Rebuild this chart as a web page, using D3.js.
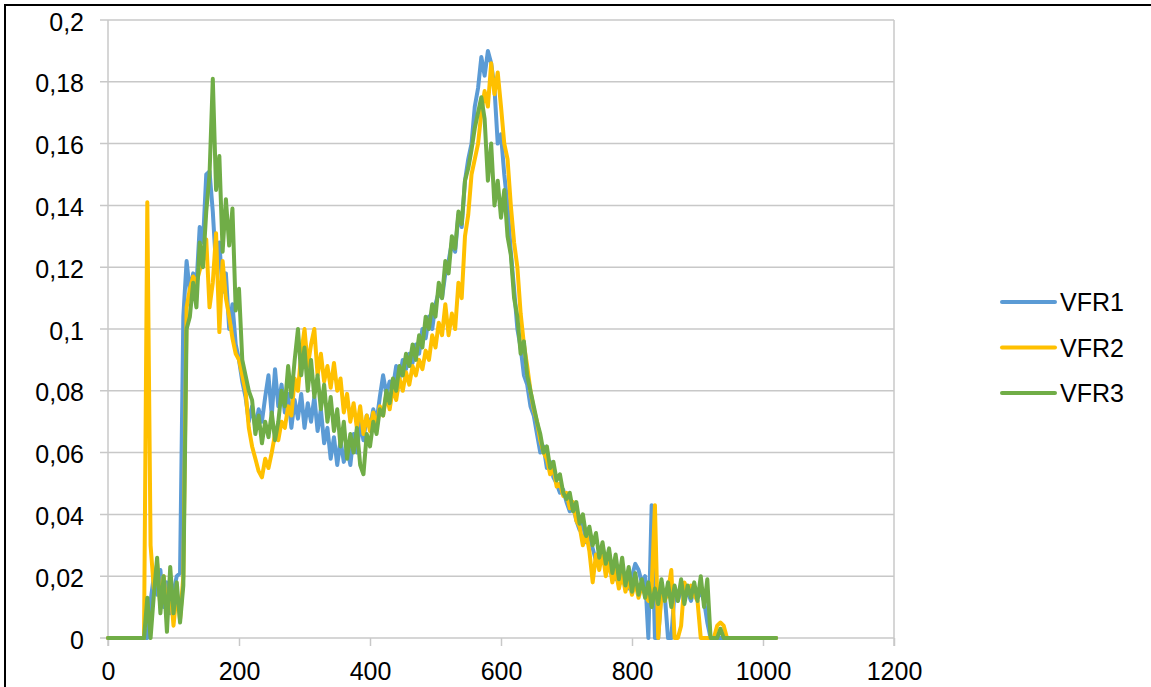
<!DOCTYPE html>
<html>
<head>
<meta charset="utf-8">
<script src="https://cdn.jsdelivr.net/npm/d3@7/dist/d3.min.js"></script>
<style>
body { margin: 0; background: #fff; }
svg { display: block; }
</style>
</head>
<body>
<div id="chart"></div>
<script>
const seriesNames = ["VFR1", "VFR2", "VFR3"];
const seriesColors = ["#5B9BD5", "#FFC000", "#70AD47"];
const xTicks = [0, 200, 400, 600, 800, 1000, 1200];
const yTicks = [0, 0.02, 0.04, 0.06, 0.08, 0.1, 0.12, 0.14, 0.16, 0.18, 0.2];
const yTickLabels = ["0", "0,02", "0,04", "0,06", "0,08", "0,1", "0,12", "0,14", "0,16", "0,18", "0,2"];

// sample positions along x, every 5 units from 0 to 1020
const xValues = d3.range(0, 1021, 5);

const vfr1 = [
    0, 0, 0, 0, 0, 0, 0, 0, 0, 0,
    0, 0, 0, 0.012, 0.02, 0.014, 0.022, 0.01, 0.018, 0.008,
    0.015, 0.02, 0.021, 0.104, 0.122, 0.112, 0.118, 0.114, 0.133, 0.128,
    0.15, 0.151, 0.138, 0.12, 0.128, 0.112, 0.118, 0.1, 0.108, 0.095,
    0.09, 0.083, 0.078, 0.07, 0.075, 0.068, 0.074, 0.07, 0.078, 0.085,
    0.072, 0.087, 0.075, 0.082, 0.073, 0.079, 0.068, 0.077, 0.071, 0.079,
    0.068, 0.076, 0.07, 0.078, 0.067, 0.074, 0.063, 0.068, 0.058, 0.065,
    0.056, 0.064, 0.057, 0.062, 0.056, 0.066, 0.06, 0.07, 0.064, 0.072,
    0.068, 0.074, 0.07, 0.078, 0.085, 0.079, 0.083, 0.081, 0.088, 0.084,
    0.09, 0.087, 0.092, 0.089, 0.095, 0.092, 0.1, 0.097, 0.104, 0.1,
    0.108, 0.112, 0.11, 0.118, 0.122, 0.128, 0.125, 0.137, 0.133, 0.148,
    0.155, 0.16, 0.172, 0.178, 0.188, 0.182, 0.19, 0.186, 0.178, 0.16,
    0.163, 0.15, 0.14, 0.125, 0.113, 0.1, 0.094, 0.085, 0.082, 0.075,
    0.072, 0.066, 0.06, 0.062, 0.055, 0.057, 0.052, 0.05, 0.047, 0.048,
    0.044, 0.041, 0.043, 0.038, 0.035, 0.037, 0.031, 0.033, 0.029, 0.025,
    0.028, 0.025, 0.027, 0.022, 0.024, 0.019, 0.022, 0.018, 0.02, 0.016,
    0.02, 0.024, 0.022, 0.018, 0.02, 0, 0.043, 0, 0, 0.016,
    0.014, 0, 0, 0.015, 0.012, 0.016, 0.013, 0.015, 0.012, 0.016,
    0.013, 0.015, 0.012, 0.005, 0, 0, 0, 0, 0, 0,
    0, 0, 0, 0, 0, 0, 0, 0, 0, 0,
    0, 0, 0, 0, 0
];

const vfr2 = [
    0, 0, 0, 0, 0, 0, 0, 0, 0, 0,
    0, 0, 0.141, 0.03, 0.016, 0.024, 0.01, 0.02, 0.007, 0.017,
    0.004, 0.015, 0.006, 0.02, 0.107, 0.113, 0.117, 0.115, 0.119, 0.122,
    0.129, 0.107, 0.115, 0.131, 0.099, 0.122, 0.11, 0.104, 0.097, 0.092,
    0.09, 0.085, 0.08, 0.068, 0.062, 0.058, 0.054, 0.052, 0.058, 0.055,
    0.06, 0.066, 0.064, 0.07, 0.068, 0.075, 0.072, 0.084, 0.08, 0.092,
    0.1, 0.088, 0.095, 0.1, 0.085, 0.092, 0.083, 0.088, 0.081, 0.089,
    0.08, 0.084, 0.073, 0.079, 0.07, 0.076, 0.068, 0.075, 0.066, 0.072,
    0.067, 0.073, 0.068, 0.075, 0.072, 0.079, 0.074, 0.081, 0.077, 0.084,
    0.08, 0.086, 0.082, 0.088, 0.085, 0.09, 0.087, 0.093, 0.09, 0.098,
    0.094, 0.102, 0.098, 0.108, 0.098, 0.105, 0.1, 0.115, 0.11, 0.13,
    0.137, 0.15, 0.155, 0.16, 0.17, 0.177, 0.172, 0.186, 0.176, 0.183,
    0.172, 0.16, 0.155, 0.14, 0.128, 0.12, 0.105, 0.095, 0.088, 0.08,
    0.074, 0.07, 0.064, 0.06, 0.058, 0.053, 0.055, 0.049, 0.05, 0.046,
    0.047, 0.042, 0.044, 0.038, 0.036, 0.03, 0.034, 0.028, 0.018, 0.027,
    0.022, 0.028, 0.02, 0.025, 0.018, 0.022, 0.016, 0.021, 0.015, 0.019,
    0.014, 0.018, 0.013, 0.017, 0.014, 0.012, 0.016, 0.043, 0, 0.014,
    0.012, 0.015, 0.022, 0, 0, 0.004, 0.018, 0.015, 0.017, 0.014,
    0.012, 0, 0, 0, 0, 0, 0.004, 0.005, 0.004, 0,
    0, 0, 0, 0, 0, 0, 0, 0, 0, 0,
    0, 0, 0, 0, 0
];

const vfr3 = [
    0, 0, 0, 0, 0, 0, 0, 0, 0, 0,
    0, 0, 0.013, 0, 0.014, 0.026, 0.008, 0.02, 0.002, 0.023,
    0.008, 0.018, 0.005, 0.017, 0.1, 0.104, 0.115, 0.107, 0.128, 0.12,
    0.138, 0.15, 0.181, 0.145, 0.156, 0.125, 0.142, 0.127, 0.139, 0.106,
    0.113, 0.09, 0.085, 0.08, 0.077, 0.066, 0.072, 0.063, 0.07, 0.065,
    0.073, 0.064, 0.07, 0.08, 0.075, 0.088, 0.078, 0.09, 0.1, 0.085,
    0.094, 0.08, 0.09, 0.078, 0.085, 0.074, 0.082, 0.07, 0.078, 0.067,
    0.074, 0.062, 0.07, 0.058, 0.066, 0.06, 0.068, 0.056, 0.053, 0.066,
    0.062, 0.07, 0.066, 0.074, 0.072, 0.08, 0.076, 0.084, 0.08, 0.088,
    0.085, 0.092, 0.088, 0.095, 0.09, 0.098, 0.094, 0.104, 0.1, 0.108,
    0.104, 0.115, 0.11, 0.122, 0.118, 0.13, 0.126, 0.138, 0.134, 0.148,
    0.152, 0.158, 0.165, 0.17, 0.175, 0.168, 0.148, 0.16, 0.14, 0.148,
    0.136, 0.145, 0.13, 0.124, 0.11, 0.104, 0.092, 0.096, 0.085, 0.08,
    0.075, 0.07, 0.066, 0.06, 0.062, 0.055, 0.057, 0.051, 0.053, 0.047,
    0.045, 0.047, 0.041, 0.044, 0.037, 0.04, 0.033, 0.036, 0.03, 0.034,
    0.026, 0.031, 0.024, 0.029, 0.021, 0.027, 0.019, 0.026, 0.017, 0.023,
    0.015, 0.021, 0.014, 0.019, 0.013, 0.018, 0.01, 0.016, 0.011, 0.019,
    0.012, 0.018, 0.01, 0.017, 0.012, 0.019, 0.011, 0.017, 0.013, 0.018,
    0.012, 0.02, 0.01, 0.019, 0, 0, 0, 0.003, 0, 0,
    0, 0, 0, 0, 0, 0, 0, 0, 0, 0,
    0, 0, 0, 0, 0
];

const seriesValues = [vfr1, vfr2, vfr3];

function drawChart(selector)
{
    // Set dimensions and margins
    var totalWidth = 1151, totalHeight = 687;
    var margin = { top: 20, right: 257, bottom: 49, left: 108 },
        width = totalWidth - margin.left - margin.right,
        height = totalHeight - margin.top - margin.bottom;

    var root = d3.select(selector)
        .append("svg")
        .attr("width", totalWidth)
        .attr("height", totalHeight);

    // Outer frame (only top and left edges are visible in the picture)
    root.append("path")
        .attr("d", "M5," + totalHeight + "V5H" + totalWidth)
        .attr("fill", "none")
        .attr("stroke", "#000")
        .attr("stroke-width", 2);

    var svg = root.append("g")
        .attr("transform", "translate(" + margin.left + "," + margin.top + ")");

    // Define scales
    var x = d3.scaleLinear()
        .domain([0, 1200])
        .range([0, width]);

    var y = d3.scaleLinear()
        .domain([0, 0.2])
        .range([height, 0]);

    const font = "'Liberation Sans', Arial, sans-serif";
    const gridColor = "#c8c8c8";

    // Horizontal gridlines, with their tick stubs to the left
    svg.append("g")
        .selectAll("line")
        .data(yTicks)
        .join("line")
        .attr("x1", -8)
        .attr("x2", width)
        .attr("y1", d => y(d))
        .attr("y2", d => y(d))
        .attr("stroke", gridColor)
        .attr("stroke-width", 1.5);

    // Vertical edges of the plot area
    svg.append("g")
        .selectAll("line")
        .data([0, 1200])
        .join("line")
        .attr("x1", d => x(d))
        .attr("x2", d => x(d))
        .attr("y1", 0)
        .attr("y2", height + 8)
        .attr("stroke", gridColor)
        .attr("stroke-width", 1.5);

    // Add X axis
    var xAxis = svg.append("g")
        .attr("transform", "translate(0," + height + ")")
        .call(d3.axisBottom(x).tickValues(xTicks).tickSize(8).tickPadding(16).tickFormat(d3.format("d")));
    xAxis.select(".domain").remove();
    xAxis.selectAll(".tick line")
        .attr("stroke", gridColor)
        .attr("stroke-width", 1.5);
    xAxis.selectAll(".tick text")
        .attr("fill", "#000")
        .style("font-family", font)
        .style("font-size", "25px");

    // Add Y axis
    var yAxis = svg.append("g")
        .call(d3.axisLeft(y).tickValues(yTicks).tickSize(0).tickPadding(24)
            .tickFormat((d, i) => yTickLabels[i]));
    yAxis.select(".domain").remove();
    yAxis.selectAll(".tick text")
        .attr("fill", "#000")
        .attr("dy", "0.4em")
        .style("font-family", font)
        .style("font-size", "25px");

    // Add the lines
    var line = d3.line()
        .x((d, i) => x(xValues[i]))
        .y(d => y(d));

    seriesValues.forEach((values, k) => {
        svg.append("path")
            .datum(values)
            .attr("fill", "none")
            .attr("stroke", seriesColors[k])
            .attr("stroke-width", 4)
            .attr("stroke-linejoin", "round")
            .attr("stroke-linecap", "round")
            .attr("d", line);
    });

    // Legend
    var legend = root.append("g")
        .attr("transform", "translate(1002,302)");

    var items = legend.selectAll("g")
        .data(seriesNames)
        .join("g")
        .attr("transform", (d, i) => "translate(0," + (i * 45.5) + ")");

    items.append("line")
        .attr("x1", 0)
        .attr("x2", 53)
        .attr("stroke", (d, i) => seriesColors[i])
        .attr("stroke-width", 4)
        .attr("stroke-linecap", "round");

    items.append("text")
        .attr("x", 58)
        .attr("dy", "0.36em")
        .style("font-family", font)
        .style("font-size", "25px")
        .text(d => d);
}

drawChart("#chart");
</script>
</body>
</html>
